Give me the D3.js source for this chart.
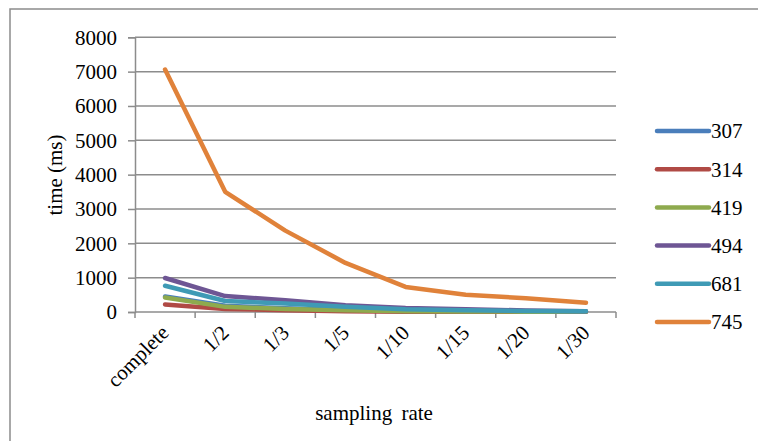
<!DOCTYPE html>
<html><head><meta charset="utf-8">
<script src="https://cdn.jsdelivr.net/npm/d3@7"></script>
<style>body{margin:0;background:#fff}svg{display:block}</style>
</head><body><svg id="c" width="758" height="441"></svg>
<script>
const categories = ["complete","1/2","1/3","1/5","1/10","1/15","1/20","1/30"];
const seriesNames = ["307","314","419","494","681","745"];
const s307 = [450,180,110,60,30,20,15,10];
const s314 = [220,90,50,25,10,8,5,5];
const s419 = [420,150,90,50,25,15,10,8];
const s494 = [990,465,340,200,120,80,45,25];
const s681 = [765,320,250,150,80,50,30,20];
const s745 = [7060,3500,2370,1430,730,500,400,270];
const yTicks = [0,1000,2000,3000,4000,5000,6000,7000,8000];
const colors = ["#4a7ebb","#b04a45","#8eaa4e","#6e5694","#3f9ab5","#e0823a"];
const seriesValues = [s307,s314,s419,s494,s681,s745];

const FONT = "'Liberation Serif','Times New Roman',serif";
const FS = 21;
const svg = d3.select("#c");
const L = 135, R = 616, T = 37.3, B = 312;
svg.append("rect").attr("x",10).attr("y",9).attr("width",760).attr("height",450)
  .attr("fill","none").attr("stroke","#8c8c8c").attr("stroke-width",1.5);

const x = d3.scaleBand().domain(categories).range([L,R]);
const y = d3.scaleLinear().domain([0,8000]).range([B,T]);

svg.append("g").selectAll("line").data(yTicks.slice(1)).join("line")
  .attr("x1",L).attr("x2",R).attr("y1",d=>y(d)).attr("y2",d=>y(d))
  .attr("stroke","#8c8c8c").attr("stroke-width",1.5);

const ya = svg.append("g").attr("transform",`translate(${L},0)`)
  .call(d3.axisLeft(y).tickValues(yTicks).tickSize(7).tickPadding(11).tickFormat(d3.format("d")));
ya.attr("font-family",null).attr("font-size",null);
ya.select(".domain").attr("stroke","#8c8c8c").attr("stroke-width",1.5);
ya.selectAll(".tick line").attr("stroke","#8c8c8c").attr("stroke-width",1.5);
ya.selectAll("text").style("font-family",FONT).style("font-size",FS+"px").attr("fill","#000").attr("dy","0.33em");

const xa = svg.append("g").attr("transform",`translate(0,${B})`);
xa.append("line").attr("x1",L).attr("x2",R).attr("stroke","#8c8c8c").attr("stroke-width",1.5);
const bounds = categories.map(c=>x(c)).concat([R]);
xa.selectAll("line.t").data(bounds).join("line").attr("class","t")
  .attr("x1",d=>d).attr("x2",d=>d).attr("y1",0).attr("y2",6)
  .attr("stroke","#8c8c8c").attr("stroke-width",1.5);
xa.selectAll("text").data(categories).join("text")
  .attr("text-anchor","end").style("font-family",FONT).style("font-size",FS+"px")
  .attr("transform",d=>`translate(${x(d)+x.bandwidth()/2+5},${22}) rotate(-45)`)
  .text(d=>d);

svg.append("text").attr("transform","translate(62,175) rotate(-90)")
  .attr("text-anchor","middle").style("font-family",FONT).style("font-size",FS+"px").text("time (ms)");
svg.append("text").attr("x",374).attr("y",420).attr("text-anchor","middle")
  .style("font-family",FONT).style("font-size",FS+"px").style("word-spacing","4px").text("sampling rate");

const line = d3.line().x((d,i)=>x(categories[i])+x.bandwidth()/2).y(d=>y(d));
seriesValues.forEach((vals,k)=>{
  svg.append("path").datum(vals).attr("d",line).attr("fill","none")
    .attr("stroke",colors[k]).attr("stroke-width",4.5)
    .attr("stroke-linejoin","round").attr("stroke-linecap","round");
});

const lg = svg.append("g");
seriesNames.forEach((n,k)=>{
  const yy = 131 + k*38.2;
  lg.append("line").attr("x1",657).attr("x2",709).attr("y1",yy).attr("y2",yy)
    .attr("stroke",colors[k]).attr("stroke-width",4.5).attr("stroke-linecap","round");
  lg.append("text").attr("x",711).attr("y",yy).attr("dy","0.35em")
    .style("font-family",FONT).style("font-size",FS+"px").text(n);
});
</script></body></html>
